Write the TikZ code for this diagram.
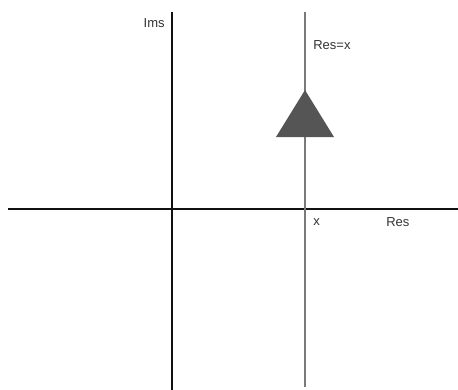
\documentclass[tikz,border=0pt]{standalone}
\usepackage{fontspec}
\setmainfont{Liberation Sans}
\usetikzlibrary{positioning}
\definecolor{axisBlack}{HTML}{111111}
\definecolor{lineGrey}{HTML}{7A7A7A}
\definecolor{arrowGrey}{HTML}{555555}
\tikzset{
    axis/.style={draw=axisBlack, line width=1.7pt},
    resLine/.style={draw=lineGrey, line width=1.1pt},
    dirArrow/.style={fill=arrowGrey, draw=none},
    lbl/.style={font=\fontsize{7.4}{8}\selectfont, text=black!80, inner sep=0pt}
}
\begin{document}
\begin{tikzpicture}[x=0.02cm, y=-0.02cm]
\useasboundingbox (0,0) rectangle (458,390);
% axes
\coordinate (reL) at (8,209);
\coordinate (reR) at (458,209);
\coordinate (imT) at (172,12);
\coordinate (imB) at (172,390);
\draw[axis] (reL) -- (reR);
\draw[axis] (imT) -- (imB);
% the line Re s = x
\coordinate (resT) at (305,12);
\coordinate (resB) at (305,387);
\draw[resLine] (resT) -- (resB);
\fill[dirArrow] (305,90) -- (334,137) -- (276,137) -- cycle;
% labels
\node[lbl, anchor=east] (imLabel) at (165,23) {Ims};
\node[lbl, anchor=west] (lineLabel) at (313,45) {Res=x};
\node[lbl, anchor=west] (xLabel) at (313,222) {x};
\node[lbl, anchor=west] (reLabel) at (386,222) {Res};
\end{tikzpicture}
\end{document}
